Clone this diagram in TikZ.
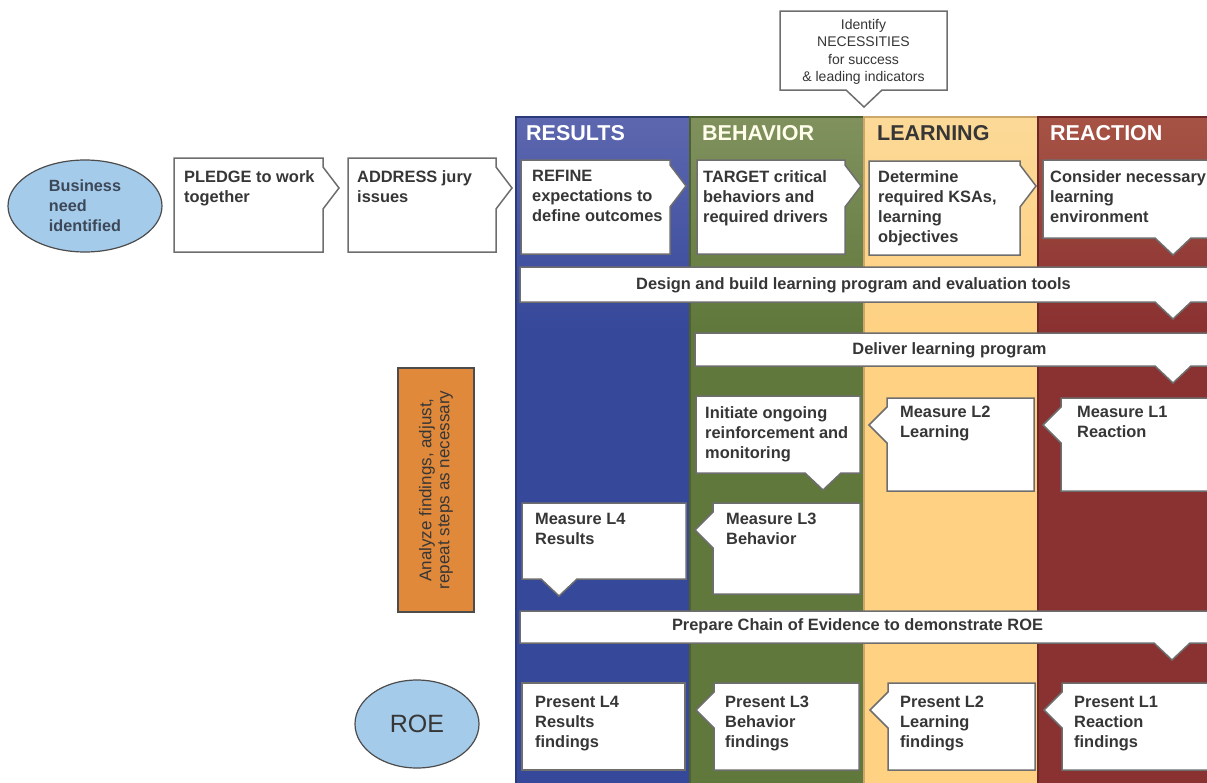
\documentclass[tikz,border=0pt]{standalone}
\usepackage{fontspec}
\setmainfont{Liberation Sans}
\usetikzlibrary{shapes.geometric}
\definecolor{resultsblue}{HTML}{36489A}
\definecolor{resultstop}{HTML}{5D67AF}
\definecolor{behaviorgreen}{HTML}{60783C}
\definecolor{behaviortop}{HTML}{80915E}
\definecolor{learningyellow}{HTML}{FED183}
\definecolor{learningtop}{HTML}{FCD997}
\definecolor{reactionred}{HTML}{8A3131}
\definecolor{reactiontop}{HTML}{A65345}
\definecolor{analyzeorange}{HTML}{E0893B}
\definecolor{startblue}{HTML}{A5CBEA}
\definecolor{starttext}{HTML}{3C4858}
\definecolor{boxline}{HTML}{6E6E6E}
\definecolor{boxtext}{HTML}{363636}
\tikzset{
		% white callout boxes, their text, and the column heads
		callout box/.style={draw=boxline,line width=1.5pt,fill=white,line join=miter},
		box text/.style={anchor=north west,inner sep=0,align=left,text=boxtext,font=\fontsize{16.4}{20}\selectfont\bfseries},
		bar text/.style={inner sep=0,text=boxtext,font=\fontsize{16.4}{20}\selectfont\bfseries},
		head text/.style={anchor=west,inner sep=0,font=\fontsize{21.5}{24}\selectfont\bfseries},
		start node/.style={ellipse,draw=black!70,line width=1.2pt,fill=startblue,inner sep=0,text=starttext}
	}
% box with pointer on the right: x1, y1, x2, y2, tip y
\newcommand{\rightcallout}[5]{\draw[callout box] (#1,#2) -- (#3,#2) -- (#3,#5-21) -- (#3+16,#5) -- (#3,#5+21) -- (#3,#4) -- (#1,#4) -- cycle;}
% box with pointer on the left: x1, y1, x2, y2, tip y
\newcommand{\leftcallout}[5]{\draw[callout box] (#1,#2) -- (#3,#2) -- (#3,#4) -- (#1,#4) -- (#1,#5+18) -- (#1-18,#5) -- (#1,#5-18) -- cycle;}
% box with pointer at the bottom: x1, y1, x2, y2, tip x
\newcommand{\downcallout}[5]{\draw[callout box] (#1,#2) -- (#3,#2) -- (#3,#4) -- (#5+18,#4) -- (#5,#4+17) -- (#5-18,#4) -- (#1,#4) -- cycle;}

\begin{document}
\begin{tikzpicture}[x=1pt,y=-1pt]
		\useasboundingbox (0,0) rectangle (1207,782);
		\fill[white] (0,0) rectangle (1207,782);
		\clip (0,0) rectangle (1207,782);

		% the four level columns
		\foreach \x/\top/\body in {516/resultstop/resultsblue,690/behaviortop/behaviorgreen,864/learningtop/learningyellow,1038/reactiontop/reactionred}{
			\shade[top color=\top,bottom color=\body] (\x,117) rectangle (\x+174,330);
			\fill[\body] (\x,330) rectangle (\x+174,790);
			\draw[\body!80!black,line width=1.5pt] (\x,117) rectangle (\x+174,790);
		}
		\node[head text,text=white] (results) at (526,133.5) {RESULTS};
		\node[head text,text=white!92!yellow] (behavior) at (702,133.5) {BEHAVIOR};
		\node[head text,text=boxtext] (learning) at (877,133.5) {LEARNING};
		\node[head text,text=white] (reaction) at (1050,133.5) {REACTION};

		% planning row
		\downcallout{780}{11}{947}{90}{864}
		\node[inner sep=0,align=center,text=boxtext,font=\fontsize{14}{17.3}\selectfont] (necessities) at (863.5,52) {Identify\\NECESSITIES\\for success\\\& leading indicators};
		\node[start node,minimum width=154,minimum height=92,align=left,font=\fontsize{16.2}{20}\selectfont\bfseries] (business) at (85,206) {Business\\need\\identified};
		\rightcallout{174}{158}{323}{252}{188}
		\node[box text] (pledge) at (184,170) {PLEDGE to work\\together};
		\rightcallout{348}{158}{496}{252}{188}
		\node[box text] (address) at (357,170) {ADDRESS jury\\issues};
		\rightcallout{521}{160}{670}{254}{186}
		\node[box text] (refine) at (532,170) {REFINE\\expectations to\\define outcomes};
		\rightcallout{697}{160}{845}{254}{186}
		\node[box text] (target) at (703,170) {TARGET critical\\behaviors and\\required drivers};
		\rightcallout{869}{161}{1020}{255}{186}
		\node[box text] (ksas) at (878,170) {Determine\\required KSAs,\\learning\\objectives};
		\downcallout{1043}{160}{1215}{238}{1173}
		\node[box text] (environment) at (1050,170) {Consider necessary\\learning\\environment};

		% build and deliver
		\downcallout{520}{267}{1215}{302}{1173}
		\node[bar text] (design) at (853.5,285) {Design and build learning program and evaluation tools};
		\downcallout{695}{333}{1215}{366}{1173}
		\node[bar text] (deliver) at (949.5,350) {Deliver learning program};

		% measuring row
		\downcallout{696}{396}{860}{473}{823}
		\node[box text] (initiate) at (705,406) {Initiate ongoing\\reinforcement and\\monitoring};
		\leftcallout{887}{398}{1034}{491}{425}
		\node[box text] (measuretwo) at (900,406) {Measure L2\\Learning};
		\leftcallout{1061}{398}{1215}{491}{425}
		\node[box text] (measureone) at (1077,406) {Measure L1\\Reaction};
		\leftcallout{713}{503}{860}{594}{530}
		\node[box text] (measurethree) at (726,513) {Measure L3\\Behavior};
		\downcallout{522}{503}{686}{579}{559}
		\node[box text] (measurefour) at (535,513) {Measure L4\\Results};
		\filldraw[draw=black!70,line width=1.2pt,fill=analyzeorange] (398,368) rectangle (474,612);
		\node[rotate=90,inner sep=0,align=center,text=boxtext,font=\fontsize{17}{18}\selectfont] (analyze) at (436,490) {Analyze findings, adjust,\\repeat steps as necessary};

		% reporting row
		\downcallout{520}{611}{1215}{643}{1172}
		\node[bar text] (chain) at (857.5,626) {Prepare Chain of Evidence to demonstrate ROE};
		\node[start node,minimum width=124,minimum height=88,font=\fontsize{25}{28}\selectfont,text=boxtext] (roe) at (417,724) {ROE};
		\draw[callout box] (522,683) rectangle (685,770);
		\node[box text] (presentfour) at (535,696) {Present L4\\Results\\findings};
		\leftcallout{714}{683}{859}{770}{710}
		\node[box text] (presentthree) at (725,696) {Present L3\\Behavior\\findings};
		\leftcallout{888}{683}{1035}{770}{710}
		\node[box text] (presenttwo) at (900,696) {Present L2\\Learning\\findings};
		\leftcallout{1062}{683}{1215}{770}{710}
		\node[box text] (presentone) at (1074,696) {Present L1\\Reaction\\findings};
	\end{tikzpicture}
\end{document}
